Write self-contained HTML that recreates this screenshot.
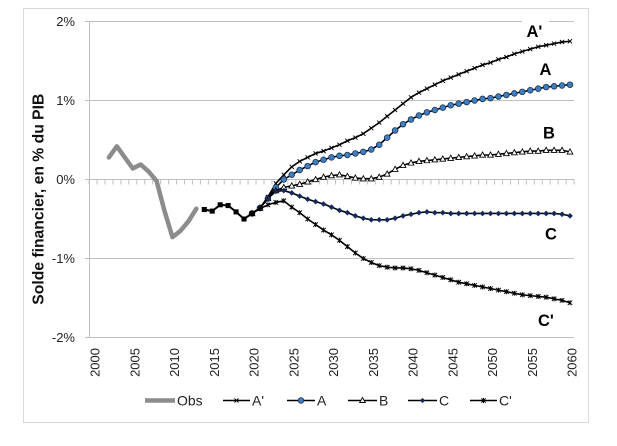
<!DOCTYPE html>
<html>
<head>
<meta charset="utf-8">
<style>
  html,body{margin:0;padding:0;background:#fff;}
  svg{display:block;}
  text{font-family:"Liberation Sans",Arial,sans-serif;}
</style>
</head>
<body>
<svg width="617" height="446" viewBox="0 0 617 446" xmlns="http://www.w3.org/2000/svg">
  <defs>
    <marker id="mX" markerUnits="userSpaceOnUse" refX="0" refY="0" markerWidth="2" markerHeight="2" overflow="visible">
      <path d="M-0.26,-0.26 L0.26,0.26 M-0.26,0.26 L0.26,-0.26" stroke="#000" stroke-width="0.12" fill="none"/>
    </marker>
    <marker id="mO" markerUnits="userSpaceOnUse" refX="0" refY="0" markerWidth="2" markerHeight="2" overflow="visible">
      <circle cx="0" cy="0" r="0.36" fill="#3f7fbf" stroke="#1b2f50" stroke-width="0.1"/>
    </marker>
    <marker id="mT" markerUnits="userSpaceOnUse" refX="0" refY="0" markerWidth="2" markerHeight="2" overflow="visible">
      <path d="M0,-0.38 L0.36,0.28 L-0.36,0.28 Z" fill="#fff" stroke="#000" stroke-width="0.11"/>
    </marker>
    <marker id="mD" markerUnits="userSpaceOnUse" refX="0" refY="0" markerWidth="2" markerHeight="2" overflow="visible">
      <path d="M0,-0.33 L0.33,0 L0,0.33 L-0.33,0 Z" fill="#14285a" stroke="#14285a" stroke-width="0.06"/>
    </marker>
    <marker id="mS" markerUnits="userSpaceOnUse" refX="0" refY="0" markerWidth="2" markerHeight="2" overflow="visible">
      <path d="M-0.28,-0.28 L0.28,0.28 M-0.28,0.28 L0.28,-0.28 M0,-0.32 L0,0.32" stroke="#000" stroke-width="0.12" fill="none"/>
    </marker>
    <marker id="mQ" markerUnits="userSpaceOnUse" refX="0" refY="0" markerWidth="2" markerHeight="2" overflow="visible">
      <rect x="-0.32" y="-0.32" width="0.64" height="0.64" fill="#000"/>
    </marker>
  </defs>

  <!-- chart border -->
  <rect x="23.5" y="8.5" width="565" height="414" fill="#fff" stroke="#d9d9d9" stroke-width="1"/>

  <!-- gridlines -->
  <g stroke="#bfbfbf" stroke-width="1">
    <line x1="85" y1="21.5" x2="574" y2="21.5"/>
    <line x1="85" y1="100.5" x2="574" y2="100.5"/>
    <line x1="85" y1="179.5" x2="574" y2="179.5"/>
    <line x1="85" y1="258.5" x2="574" y2="258.5"/>
    <line x1="85" y1="337.5" x2="574" y2="337.5"/>
    <line x1="89.5" y1="21" x2="89.5" y2="337.5"/>
  </g>
  <!-- ticks on 0 axis -->
  <line x1="88.6" y1="182" x2="575" y2="182" stroke="#bfbfbf" stroke-width="5" stroke-dasharray="1 6.95"/>

  <!-- y tick labels -->
  <g font-size="13" fill="#222" text-anchor="end">
    <text x="75" y="26">2%</text>
    <text x="75" y="105">1%</text>
    <text x="75" y="184">0%</text>
    <text x="75" y="263">-1%</text>
    <text x="75" y="342">-2%</text>
  </g>

  <!-- y axis title -->
  <text transform="translate(43.3,199.2) rotate(-90)" text-anchor="middle" font-size="16" font-weight="bold" fill="#111" textLength="211" lengthAdjust="spacingAndGlyphs">Solde financier, en % du PIB</text>

  <!-- x tick labels -->
  <g font-size="13" fill="#222" text-anchor="end">
    <text transform="translate(99.7,348) rotate(-90)">2000</text>
    <text transform="translate(139.45,348) rotate(-90)">2005</text>
    <text transform="translate(179.2,348) rotate(-90)">2010</text>
    <text transform="translate(218.95,348) rotate(-90)">2015</text>
    <text transform="translate(258.7,348) rotate(-90)">2020</text>
    <text transform="translate(298.45,348) rotate(-90)">2025</text>
    <text transform="translate(338.2,348) rotate(-90)">2030</text>
    <text transform="translate(377.95,348) rotate(-90)">2035</text>
    <text transform="translate(417.7,348) rotate(-90)">2040</text>
    <text transform="translate(457.45,348) rotate(-90)">2045</text>
    <text transform="translate(497.2,348) rotate(-90)">2050</text>
    <text transform="translate(536.95,348) rotate(-90)">2055</text>
    <text transform="translate(576.7,348) rotate(-90)">2060</text>
  </g>

  <!-- data -->
  <g transform="translate(93,179.5) scale(7.95,7.9)" fill="none" stroke-linejoin="round" stroke-linecap="round">
    <polyline vector-effect="non-scaling-stroke" stroke="#8c8c8c" stroke-width="4.5"
      points="2,-2.8 3,-4.2 4,-2.8 5,-1.4 6,-1.9 7,-1.0 8,0.2 9,4.0 10,7.3 11,6.5 12,5.3 13,3.7"/>

    <!-- A' -->
    <polyline vector-effect="non-scaling-stroke" stroke="#000" stroke-width="1.6"
      marker-start="url(#mX)" marker-mid="url(#mX)" marker-end="url(#mX)"
      points="20,4.3 21,3.6 22,2.2 23,0.5 24,-0.6 25,-1.6 26,-2.3 27,-2.8 28,-3.3 29,-3.6 30,-4.0 31,-4.4 32,-4.9 33,-5.3 34,-5.8 35,-6.5 36,-7.2 37,-8.0 38,-8.8 39,-9.6 40,-10.4 41,-11.0 42,-11.5 43,-12.0 44,-12.5 45,-12.9 46,-13.3 47,-13.7 48,-14.1 49,-14.5 50,-14.8 51,-15.2 52,-15.5 53,-15.9 54,-16.2 55,-16.5 56,-16.8 57,-17.0 58,-17.2 59,-17.4 60,-17.5"/>

    <!-- A -->
    <polyline vector-effect="non-scaling-stroke" stroke="#000" stroke-width="1.6"
      marker-start="url(#mO)" marker-mid="url(#mO)" marker-end="url(#mO)"
      points="20,4.3 21,3.6 22,2.4 23,1.0 24,0.0 25,-0.6 26,-1.2 27,-1.7 28,-2.2 29,-2.5 30,-2.8 31,-3.0 32,-3.1 33,-3.3 34,-3.5 35,-3.8 36,-4.4 37,-5.3 38,-6.2 39,-7.0 40,-7.6 41,-8.1 42,-8.5 43,-8.8 44,-9.1 45,-9.4 46,-9.6 47,-9.8 48,-10.0 49,-10.2 50,-10.3 51,-10.5 52,-10.7 53,-10.9 54,-11.1 55,-11.3 56,-11.5 57,-11.7 58,-11.8 59,-11.9 60,-12.0"/>

    <!-- B -->
    <polyline vector-effect="non-scaling-stroke" stroke="#000" stroke-width="1.6"
      marker-start="url(#mT)" marker-mid="url(#mT)" marker-end="url(#mT)"
      points="20,4.3 21,3.6 22,2.4 23,1.4 24,1.0 25,0.8 26,0.6 27,0.3 28,0.0 29,-0.3 30,-0.5 31,-0.6 32,-0.4 33,-0.2 34,-0.1 35,-0.1 36,-0.3 37,-0.7 38,-1.3 39,-1.8 40,-2.1 41,-2.3 42,-2.4 43,-2.5 44,-2.6 45,-2.7 46,-2.8 47,-2.9 48,-3.0 49,-3.1 50,-3.1 51,-3.2 52,-3.3 53,-3.4 54,-3.5 55,-3.6 56,-3.6 57,-3.7 58,-3.7 59,-3.7 60,-3.5"/>

    <!-- C -->
    <polyline vector-effect="non-scaling-stroke" stroke="#000" stroke-width="1.6"
      marker-start="url(#mD)" marker-mid="url(#mD)" marker-end="url(#mD)"
      points="20,4.3 21,3.6 22,2.4 23,1.5 24,1.4 25,1.7 26,2.1 27,2.5 28,2.8 29,3.1 30,3.5 31,3.9 32,4.2 33,4.6 34,4.9 35,5.1 36,5.1 37,5.1 38,4.9 39,4.6 40,4.4 41,4.2 42,4.1 43,4.2 44,4.2 45,4.3 46,4.3 47,4.3 48,4.3 49,4.3 50,4.3 51,4.3 52,4.3 53,4.3 54,4.3 55,4.3 56,4.3 57,4.3 58,4.3 59,4.4 60,4.6"/>

    <!-- C' -->
    <polyline vector-effect="non-scaling-stroke" stroke="#000" stroke-width="1.6"
      marker-start="url(#mS)" marker-mid="url(#mS)" marker-end="url(#mS)"
      points="20,4.3 21,3.7 22,3.2 23,2.9 24,2.7 25,3.5 26,4.2 27,5.0 28,5.7 29,6.4 30,7.0 31,7.7 32,8.5 33,9.3 34,10.0 35,10.5 36,10.9 37,11.1 38,11.2 39,11.2 40,11.3 41,11.5 42,11.8 43,12.1 44,12.4 45,12.7 46,13.0 47,13.2 48,13.4 49,13.6 50,13.8 51,14.0 52,14.2 53,14.4 54,14.6 55,14.7 56,14.8 57,14.9 58,15.1 59,15.3 60,15.6"/>

    <!-- common projection segment (squares) -->
    <polyline vector-effect="non-scaling-stroke" stroke="#000" stroke-width="2"
      marker-start="url(#mQ)" marker-mid="url(#mQ)" marker-end="url(#mQ)"
      points="14,3.8 15,4.0 16,3.2 17,3.3 18,4.1 19,5.0 20,4.3"/>
  </g>

  <!-- scenario labels -->
  <rect x="522" y="13" width="27" height="26" fill="#fff"/>
  <g font-size="16.5" font-weight="bold" fill="#000">
    <text x="526.5" y="37">A'</text>
    <text x="539.5" y="75">A</text>
    <text x="543" y="138.5">B</text>
    <text x="545" y="239.5">C</text>
    <text x="538" y="326">C'</text>
  </g>

  <!-- legend -->
  <g font-size="14" fill="#222">
    <line x1="145" y1="400.5" x2="175" y2="400.5" stroke="#8c8c8c" stroke-width="4.5"/>
    <text x="177" y="405.5">Obs</text>

    <line x1="223" y1="400.5" x2="250" y2="400.5" stroke="#000" stroke-width="1.5"/>
    <path d="M234.5,398.5 L238.5,402.5 M234.5,402.5 L238.5,398.5" stroke="#000" stroke-width="1"/>
    <text x="252" y="405.5">A'</text>

    <line x1="287" y1="400.5" x2="315" y2="400.5" stroke="#000" stroke-width="1.5"/>
    <circle cx="301" cy="400.5" r="2.8" fill="#3f7fbf" stroke="#1b2f50" stroke-width="0.8"/>
    <text x="317" y="405.5">A</text>

    <line x1="348" y1="400.5" x2="377" y2="400.5" stroke="#000" stroke-width="1.5"/>
    <path d="M362.5,397.5 L365.3,402.5 L359.7,402.5 Z" fill="#fff" stroke="#000" stroke-width="0.9"/>
    <text x="379" y="405.5">B</text>

    <line x1="408" y1="400.5" x2="437" y2="400.5" stroke="#000" stroke-width="1.5"/>
    <path d="M422.5,397.9 L425.1,400.5 L422.5,403.1 L419.9,400.5 Z" fill="#14285a"/>
    <text x="439" y="405.5">C</text>

    <line x1="470" y1="400.5" x2="497" y2="400.5" stroke="#000" stroke-width="1.5"/>
    <path d="M481.3,398.3 L485.7,402.7 M481.3,402.7 L485.7,398.3 M483.5,397.9 L483.5,403.1" stroke="#000" stroke-width="1"/>
    <text x="499" y="405.5">C'</text>
  </g>
</svg>
</body>
</html>
